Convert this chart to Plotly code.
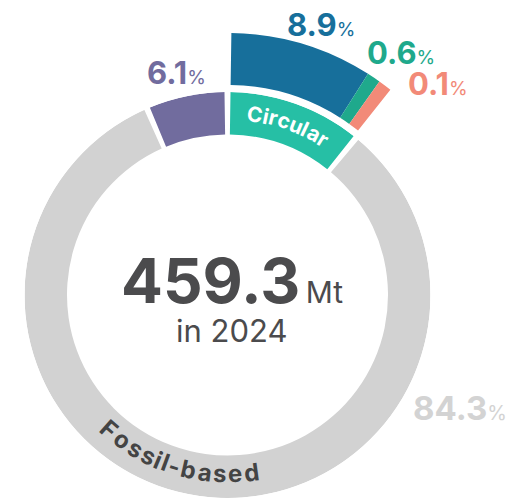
import math
import plotly.graph_objects as go

# page body has an 8px margin, so the figure is drawn 8px in from the window corner
OFF = 8
WIN_W, WIN_H = 521, 498
W, H = WIN_W - OFF, WIN_H - OFF

# ---------------- data ----------------
ring_labels = ["Bio-based", "Circular", "Fossil-based"]
ring_values = [6.1, 9.6, 84.3]
ring_colors = ["#716c9e", "#26bfa5", "#d2d2d2"]

circular_labels = ["Mechanically recycled", "Chemically recycled", "Carbon capture"]
circular_values = [8.9, 0.6, 0.1]
circular_colors = ["#176f9b", "#1fa98c", "#f28a78"]

total_mt = 459.3
year = 2024

# ---------------- geometry (window pixels) ----------------
CX, CY = 227.5, 295.0          # ring centre
R_IN, R_OUT = 160.5, 203.0     # main ring
B_IN, B_OUT = 210.0, 262.0     # circular breakdown band
R2 = 270.0                     # radius of the band's sector subplot
GAP = 1.7                      # white gap between ring segments (deg)
MIN_SUB = 3.0                  # minimum drawn width of tiny shares (deg)
SECTOR = [40, 100]

deg_per_pct = (360 - 3 * GAP) / 100.0
sub_deg = [max(v * deg_per_pct, MIN_SUB) for v in circular_values]
circ_deg = max(ring_values[1] * deg_per_pct, sum(sub_deg))
bio_deg = ring_values[0] * deg_per_pct
fossil_deg = 360 - 3 * GAP - circ_deg - bio_deg

circ_start = GAP / 2
fossil_start = circ_start + circ_deg + GAP
bio_start = fossil_start + fossil_deg + GAP

ring_widths = [bio_deg, circ_deg, fossil_deg]
ring_starts = [bio_start, circ_start, fossil_start]
ring_theta = [s + w / 2 for s, w in zip(ring_starts, ring_widths)]

sub_theta = []
acc = circ_start
for w in sub_deg:
    sub_theta.append(acc + w / 2)
    acc += w

fig = go.Figure()
fig.add_trace(go.Barpolar(
    theta=ring_theta, width=ring_widths,
    base=[R_IN] * 3, r=[R_OUT - R_IN] * 3,
    marker=dict(color=ring_colors, line=dict(width=0)),
    hovertext=[f"{l}: {v}%" for l, v in zip(ring_labels, ring_values)],
    hoverinfo="text", subplot="polar", showlegend=False,
))
fig.add_trace(go.Barpolar(
    theta=sub_theta, width=sub_deg,
    base=[B_IN] * 3, r=[B_OUT - B_IN] * 3,
    marker=dict(color=circular_colors, line=dict(width=0)),
    hovertext=[f"{l}: {v}%" for l, v in zip(circular_labels, circular_values)],
    hoverinfo="text", subplot="polar2", showlegend=False,
))

ang = dict(direction="clockwise", rotation=90, visible=False)

# figure-pixel centre
cx, cy = CX - OFF, CY - OFF

# sector bounding box for the band subplot
s0, s1 = [math.radians(a) for a in SECTOR]
bx0, bx1 = math.cos(s1), math.cos(s0)

fig.update_layout(
    width=W, height=H,
    margin=dict(l=0, r=0, t=0, b=0),
    paper_bgcolor="white", plot_bgcolor="white",
    polar=dict(
        domain=dict(x=[(cx - R_OUT) / W, (cx + R_OUT) / W],
                    y=[max(0, 1 - (cy + R_OUT) / H), 1 - (cy - R_OUT) / H]),
        bgcolor="rgba(0,0,0,0)", bargap=0, hole=0,
        radialaxis=dict(range=[0, R_OUT], visible=False),
        angularaxis=ang,
    ),
    polar2=dict(
        domain=dict(x=[(cx + R2 * bx0) / W, (cx + R2 * bx1) / W],
                    y=[1 - cy / H, 1 - (cy - R2) / H]),
        sector=SECTOR,
        bgcolor="rgba(0,0,0,0)", bargap=0, hole=0,
        radialaxis=dict(range=[0, R2], visible=False),
        angularaxis=ang,
    ),
)

FONT = "Inter, Roboto, sans-serif"
ann = []


def px(x, y):
    """window pixel -> paper coords"""
    return dict(x=(x - OFF) / W, y=1 - (y - OFF) / H, xref="paper", yref="paper")


def pct_label(val, x, y, color, size=31, psize=19):
    ann.append(dict(
        text=f"<b>{val}</b><span style='font-size:{psize}px'>%</span>",
        **px(x, y), xanchor="left", yanchor="middle", showarrow=False,
        font=dict(family=FONT, size=size, color=color),
    ))


pct_label(ring_values[0], 145, 72.5, ring_colors[0])
pct_label(circular_values[0], 285, 25, circular_colors[0])
pct_label(circular_values[1], 365, 52.5, circular_colors[1])
pct_label(circular_values[2], 406, 83.5, circular_colors[2])
pct_label(ring_values[2], 411, 407.5, "#d3d3d3", size=33, psize=20)

ann.append(dict(
    text=f"<b>{total_mt}</b><span style='font-size:30px'>\u2009Mt</span>",
    **px(119, 280.5), xanchor="left", yanchor="middle", showarrow=False,
    font=dict(family=FONT, size=62, color="#4b4b4d"),
))
ann.append(dict(
    text=f"in {year}", **px(231.5, 330), xanchor="center", yanchor="middle",
    showarrow=False, font=dict(family=FONT, size=31, color="#4b4b4d"),
))

# ---- curved labels (one annotation per character) ----
W_EM = {'C': 0.70, 'i': 0.28, 'r': 0.42, 'c': 0.58, 'u': 0.61, 'l': 0.28,
        'a': 0.58, 'F': 0.60, 'o': 0.61, 's': 0.54, '-': 0.42, 'b': 0.62,
        'e': 0.59, 'd': 0.62}


def arc_text(text, r, th_left, th_right, size, color, bottom=False):
    widths = [W_EM.get(c, 0.55) for c in text]
    total = sum(widths)
    cum = 0.0
    for c, w in zip(text, widths):
        f = (cum + w / 2) / total
        cum += w
        th = th_left + f * (th_right - th_left)
        rad = math.radians(th)
        x = CX + r * math.sin(rad)
        y = CY - r * math.cos(rad)
        ann.append(dict(
            text=f"<b>{c}</b>", **px(x, y), xanchor="center", yanchor="middle",
            textangle=(th - 180) if bottom else th, showarrow=False,
            font=dict(family=FONT, size=size, color=color),
        ))


circ_mid = circ_start + circ_deg / 2
arc_text("Circular", 183, circ_mid - 13.5, circ_mid + 13.5, 21, "white")
arc_text("Fossil-based", 179, 224, 169.5, 24, "#444444", bottom=True)

fig.update_layout(annotations=ann)
fig.write_html("out.html")
